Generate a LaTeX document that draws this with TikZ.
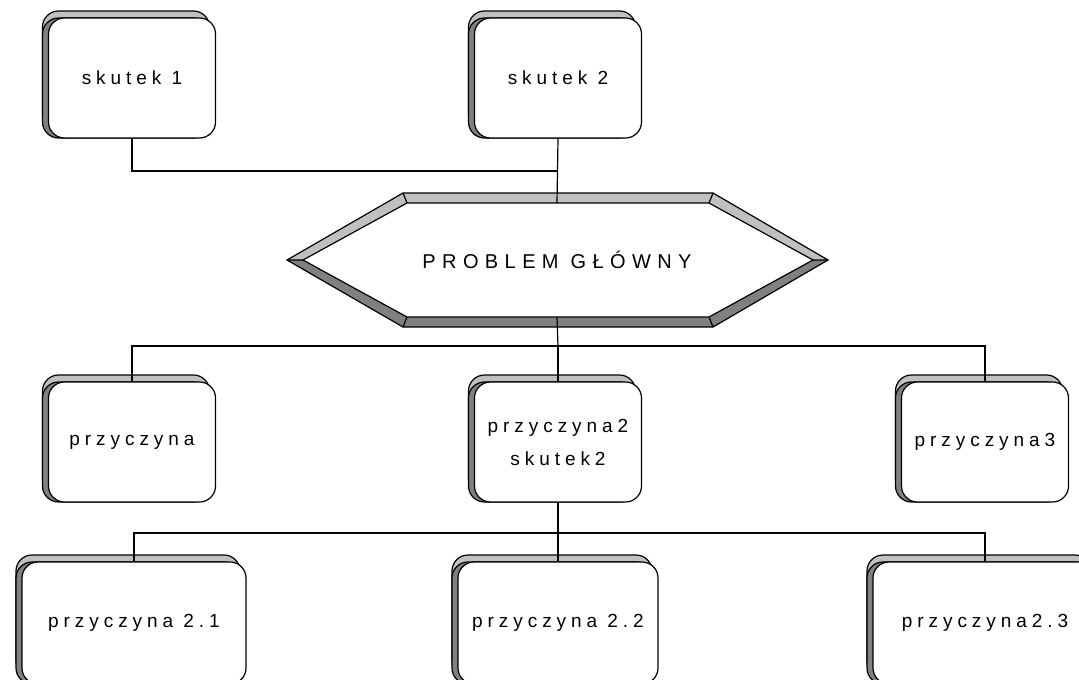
\documentclass[tikz,border=0pt]{standalone}
\usepackage{fontspec}
\setmainfont{Liberation Sans}
\newfontfamily\boxfont[LetterSpace=26]{Liberation Sans}
\newfontfamily\hexfont[LetterSpace=32]{Liberation Sans}
\usetikzlibrary{shadows}
\definecolor{bevellight}{HTML}{C0C0C0}
\definecolor{beveldark}{HTML}{808080}
\tikzset{
	bevelbox/.style={draw=black, fill=white, line width=1.2pt, rounded corners=16pt,
		inner sep=0pt, align=center, font={\boxfont\fontsize{19}{33}\selectfont},
		general shadow={shadow xshift=-6pt, shadow yshift=7pt, fill=bevellight, draw=black, line width=1.2pt},
		general shadow={shadow xshift=-6pt, shadow yshift=0pt, fill=beveldark, draw=black, line width=1.2pt}},
	smallbox/.style={bevelbox, minimum width=167pt, minimum height=120pt},
	widebox/.style={bevelbox, minimum width=#1, minimum height=122pt},
	link/.style={draw=black, line width=1.2pt}
}
\begin{document}
\begin{tikzpicture}[x=1pt, y=-1pt]
		\useasboundingbox (0,0) rectangle (1079,680);
		\clip (0,0) rectangle (1079,680);
		% hexagon
		\fill[bevellight] (287,260) -- (403,193) -- (713,193) -- (828,260) -- (813,260) -- (709,203) -- (407,203) -- (303,260) -- cycle;
		\fill[beveldark] (287,260) -- (403,327) -- (713,327) -- (828,260) -- (813,260) -- (709,317) -- (407,317) -- (303,260) -- cycle;
		\draw[line width=1.2pt, fill=white] (303,260) -- (407,203) -- (709,203) -- (813,260) -- (709,317) -- (407,317) -- cycle;
		\draw[line width=1.2pt] (287,260) -- (403,193) -- (713,193) -- (828,260) -- (713,327) -- (403,327) -- cycle;
		\draw[line width=1.2pt] (403,193) -- (407,203) (713,193) -- (709,203) (403,327) -- (407,317) (713,327) -- (709,317) (287,260) -- (303,260) (828,260) -- (813,260);
		\node[minimum width=300pt, minimum height=114pt, inner sep=0pt, font={\hexfont\fontsize{20}{24}\selectfont}] (problem) at (557,260) {PROBLEM GŁÓWNY};

		% boxes
		\node[smallbox] (skutek1) at (132,78) {skutek 1};
		\node[smallbox] (skutek2) at (558,78) {skutek 2};
		\node[smallbox] (przyczyna1) at (132,442) {przyczyna};
		\node[smallbox] (przyczyna2) at (558,442) {przyczyna2\\skutek2};
		\node[smallbox] (przyczyna3) at (985,442) {przyczyna3};
		\node[widebox=224pt] (przyczyna21) at (134,623) {przyczyna 2.1};
		\node[widebox=200pt] (przyczyna22) at (558,623) {przyczyna 2.2};
		\node[widebox=224pt] (przyczyna23) at (985,623) {przyczyna2.3};

		% links
		\coordinate (topjoin) at (558,171);
		\coordinate (midjoin) at (558,346);
		\coordinate (botjoin) at (558,533);
		\draw[link] (skutek1.south) |- (topjoin);
		\draw[link] (skutek2.south) -- (problem.north);
		\draw[link] (problem.south) -- (midjoin);
		\draw[link] (przyczyna1.north) |- (midjoin) -| (przyczyna3.north);
		\draw[link] (midjoin) -- (przyczyna2.north);
		\draw[link] (przyczyna2.south) -- (botjoin);
		\draw[link] (przyczyna21.north) |- (botjoin) -| (przyczyna23.north);
		\draw[link] (botjoin) -- (przyczyna22.north);
	\end{tikzpicture}
\end{document}
